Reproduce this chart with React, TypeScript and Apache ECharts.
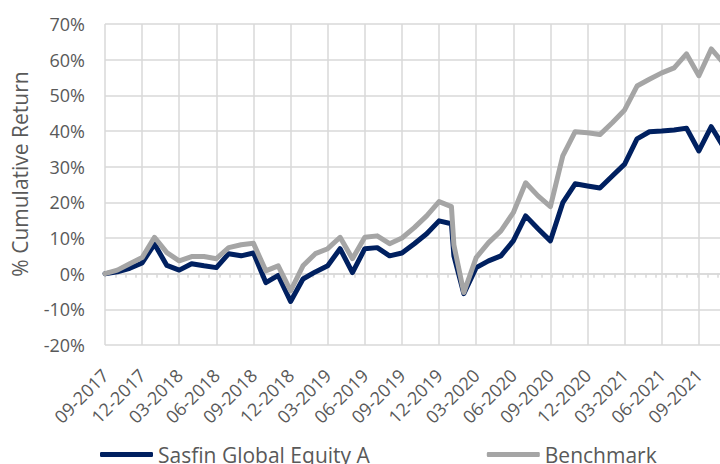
import React, { useEffect, useRef } from "react";
import * as echarts from "echarts";

// month offsets from 09-2017 (one extra point early in 2020)
const monthOffsets = [
  0, 1, 2, 3, 4, 5, 6, 7, 8, 9, 10, 11, 12, 13, 14, 15, 16, 17, 18, 19, 20, 21, 22, 23, 24, 25, 26, 27, 28, 28.2,
  29, 30, 31, 32, 33, 34, 35, 36, 37, 38, 39, 40, 41, 42, 43, 44, 45, 46, 47, 48, 49, 50,
];

const sasfinValues = [
  0, 0.5, 1.5, 3, 8.3, 2.3, 1, 2.8, 2.2, 1.7, 5.6, 5, 5.8, -2.5, -0.5, -7.8, -1.5, 0.5, 2.2, 7, 0.3, 7, 7.3, 5, 5.8,
  8.4, 11.2, 14.8, 14, 5, -5.6, 1.7, 3.6, 5, 9.2, 16.2, 12.6, 9.2, 19.9, 25.2, 24.6, 24, 27.4, 30.7, 37.8, 39.8, 40,
  40.3, 40.8, 34.4, 41.2, 35.5,
];

const benchmarkValues = [
  0, 1, 2.8, 4.5, 10.2, 5.9, 3.6, 4.8, 4.8, 4.2, 7.3, 8.1, 8.5, 0.8, 2.2, -4.8, 2.2, 5.6, 7, 10.2, 4.2, 10.2, 10.6,
  8.4, 10, 12.9, 16.2, 20.2, 18.8, 8, -5.3, 4.5, 8.7, 12, 17.1, 25.5, 21.8, 18.8, 33, 39.8, 39.5, 39, 42.3, 45.9,
  52.6, 54.5, 56.3, 57.7, 61.6, 55.5, 63, 59,
];

const tickLabels = [
  "09-2017", "12-2017", "03-2018", "06-2018", "09-2018", "12-2018", "03-2019", "06-2019", "09-2019",
  "12-2019", "03-2020", "06-2020", "09-2020", "12-2020", "03-2021", "06-2021", "09-2021",
];

const seriesNames = ["Sasfin Global Equity A", "Benchmark"];
const yTitle = "% Cumulative Return";

const FONT = "'Open Sans', sans-serif";
const TEXT = "#595959";
const GRID = "#d9d9d9";

export default function App() {
  const ref = useRef<HTMLDivElement>(null);
  useEffect(() => {
    if (!ref.current) return;
    const chart = echarts.init(ref.current, undefined, { renderer: "svg" });
    const pair = (vals: number[]) => vals.map((v, i) => [monthOffsets[i], v]);
    chart.setOption({
      animation: false,
      grid: { left: 105, top: 24, right: 4, bottom: 119, containLabel: false },
      xAxis: [
        {
          type: "value",
          min: 0,
          max: 51,
          interval: 3,
          axisLine: { show: false, onZero: false },
          axisTick: { show: false },
          splitLine: { show: true, lineStyle: { color: GRID, width: 1.5 } },
          axisLabel: {
            rotate: 45,
            margin: 27,
            color: TEXT,
            fontSize: 18,
            fontFamily: FONT,
            formatter: (v: number) => tickLabels[Math.round(v / 3)] ?? "",
          },
        },
        {
          type: "value",
          min: 0,
          max: 51,
          interval: 0.84,
          position: "bottom",
          axisLine: { show: true, onZero: true, onZeroAxisIndex: 0, lineStyle: { color: GRID, width: 1.5 } },
          axisTick: { show: true, inside: false, length: 4, lineStyle: { color: GRID, width: 1.5 } },
          axisLabel: { show: false },
          splitLine: { show: false },
        },
      ],
      yAxis: {
        type: "value",
        min: -20,
        max: 70,
        interval: 10,
        axisLine: { show: false },
        axisTick: { show: false },
        splitLine: { show: true, lineStyle: { color: GRID, width: 1.5 } },
        axisLabel: { formatter: "{value}%", color: TEXT, fontSize: 18, fontFamily: FONT, margin: 20 },
      },
      legend: {
        data: seriesNames,
        left: 100,
        top: 444,
        padding: 0,
        icon: "roundRect",
        itemWidth: 53,
        itemHeight: 5,
        itemGap: 117,
        textStyle: { color: TEXT, fontSize: 21, fontFamily: FONT },
      },
      graphic: [
        {
          type: "text",
          x: 20,
          y: 174,
          rotation: Math.PI / 2,
          style: {
            text: yTitle,
            fontSize: 21,
            fontFamily: FONT,
            fill: TEXT,
            align: "center",
            verticalAlign: "middle",
          },
        },
      ],
      series: [
        {
          name: seriesNames[0],
          type: "line",
          xAxisIndex: 0,
          data: pair(sasfinValues),
          showSymbol: false,
          symbol: "none",
          color: "#002060",
          lineStyle: { color: "#002060", width: 5, join: "round", cap: "round" },
        },
        {
          name: seriesNames[1],
          type: "line",
          xAxisIndex: 0,
          data: pair(benchmarkValues),
          showSymbol: false,
          symbol: "none",
          color: "#A5A5A5",
          lineStyle: { color: "#A5A5A5", width: 5, join: "round", cap: "round" },
        },
      ],
    });
    return () => chart.dispose();
  }, []);
  return (
    <div style={{ position: "absolute", left: 0, top: 0, width: 720, height: 464, overflow: "hidden", background: "#fff" }}>
      <div ref={ref} style={{ position: "absolute", left: 0, top: 0, width: 740, height: 464 }} />
    </div>
  );
}
